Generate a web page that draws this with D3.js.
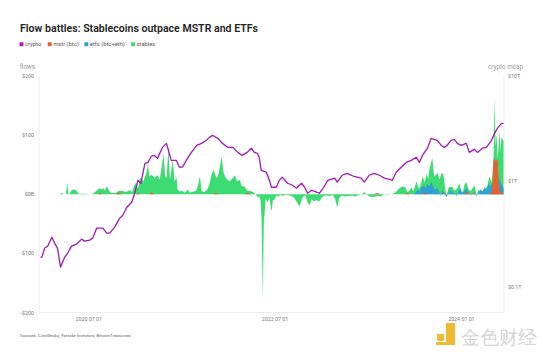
<!DOCTYPE html>
<html>
<head>
<meta charset="utf-8">
<script src="https://cdn.jsdelivr.net/npm/d3@7"></script>
<style>
  body { margin: 0; background: #fff; }
  text { font-family: Roboto, "Noto Sans", sans-serif; }
</style>
</head>
<body>
<div id="chart"></div>
<script>
// crypto market cap ($T)
var mcapDates = ["2020-01-01","2020-01-07","2020-01-18","2020-01-30","2020-02-15","2020-03-01","2020-03-08","2020-03-20","2020-04-05","2020-04-17","2020-05-02","2020-05-22","2020-06-11","2020-06-22","2020-07-12","2020-07-24","2020-08-09","2020-09-02","2020-09-17","2020-09-29","2020-10-18","2020-11-07","2020-11-19","2020-12-05","2020-12-24","2021-01-05","2021-01-17","2021-01-29","2021-02-14","2021-02-26","2021-03-11","2021-03-23","2021-04-04","2021-04-24","2021-05-09","2021-05-17","2021-05-28","2021-06-17","2021-06-29","2021-07-11","2021-07-26","2021-08-15","2021-09-05","2021-09-24","2021-10-13","2021-10-25","2021-11-06","2021-11-26","2021-12-15","2022-01-04","2022-01-24","2022-02-13","2022-03-02","2022-03-22","2022-04-07","2022-04-19","2022-05-01","2022-05-08","2022-05-16","2022-06-05","2022-06-17","2022-06-25","2022-07-14","2022-07-26","2022-08-07","2022-08-27","2022-09-16","2022-10-01","2022-10-21","2022-11-02","2022-11-14","2022-11-29","2022-12-19","2022-12-30","2023-01-11","2023-02-01","2023-02-28","2023-03-10","2023-03-29","2023-04-18","2023-05-15","2023-06-12","2023-06-24","2023-07-13","2023-08-02","2023-08-22","2023-09-11","2023-10-01","2023-10-12","2023-10-27","2023-11-16","2023-12-06","2023-12-25","2024-01-14","2024-01-26","2024-02-07","2024-02-27","2024-03-12","2024-03-24","2024-04-05","2024-04-21","2024-05-02","2024-05-14","2024-05-29","2024-06-11","2024-06-23","2024-07-08","2024-07-28","2024-08-09","2024-08-28","2024-09-10","2024-09-29","2024-10-15","2024-11-04","2024-11-16","2024-11-27","2024-12-13","2024-12-21"];
var mcapValues = [0.19,0.19,0.232,0.242,0.294,0.247,0.232,0.153,0.19,0.208,0.242,0.253,0.282,0.27,0.276,0.288,0.359,0.359,0.321,0.321,0.366,0.446,0.476,0.567,0.632,0.769,1.02,0.957,1.48,1.51,1.73,1.76,1.65,2.10,2.29,1.97,1.58,1.58,1.36,1.36,1.58,1.88,2.19,2.29,2.45,2.61,2.73,2.56,2.29,2.10,2.10,1.88,1.76,1.88,2.06,1.88,1.84,1.69,1.27,1.22,1.02,0.877,0.877,1.02,1.09,0.957,0.916,0.859,0.957,0.877,0.769,0.822,0.787,0.769,0.84,1.02,1.07,0.98,1.14,1.19,1.11,1.07,0.98,1.14,1.19,1.14,1.07,1.04,1.02,1.22,1.36,1.51,1.58,1.69,1.51,1.76,2.06,2.56,2.50,2.45,2.19,2.10,2.19,2.45,2.50,2.29,2.19,2.29,1.88,2.01,1.88,2.06,2.10,2.45,2.85,3.18,3.55,3.55];

// stablecoin flows ($B)
var stablesDates = ["2020-01-01","2020-02-27","2020-03-16","2020-03-24","2020-04-02","2020-04-10","2020-04-15","2020-04-20","2020-04-25","2020-05-03","2020-05-14","2020-05-22","2020-05-30","2020-06-23","2020-07-12","2020-07-24","2020-08-02","2020-08-13","2020-08-21","2020-08-29","2020-09-03","2020-09-10","2020-09-18","2020-09-26","2020-10-04","2020-10-23","2020-10-31","2020-11-16","2020-12-02","2020-12-17","2020-12-25","2021-01-02","2021-01-10","2021-01-18","2021-01-26","2021-02-07","2021-02-19","2021-02-26","2021-03-04","2021-03-12","2021-03-23","2021-04-05","2021-04-13","2021-04-20","2021-04-28","2021-05-04","2021-05-10","2021-05-17","2021-05-23","2021-06-03","2021-06-10","2021-06-18","2021-06-22","2021-06-30","2021-07-11","2021-07-19","2021-08-01","2021-08-08","2021-08-20","2021-09-02","2021-09-09","2021-09-17","2021-09-25","2021-10-06","2021-10-18","2021-10-26","2021-11-03","2021-11-11","2021-11-19","2021-11-23","2021-11-30","2021-12-12","2021-12-20","2021-12-28","2022-01-05","2022-01-13","2022-01-25","2022-02-02","2022-02-10","2022-02-21","2022-02-28","2022-03-11","2022-03-23","2022-04-08","2022-04-19","2022-04-27","2022-05-05","2022-05-09","2022-05-13","2022-05-17","2022-05-22","2022-05-26","2022-06-02","2022-06-10","2022-06-17","2022-06-25","2022-07-01","2022-07-07","2022-07-14","2022-07-22","2022-07-30","2022-08-08","2022-08-19","2022-09-05","2022-09-20","2022-10-01","2022-10-13","2022-10-21","2022-10-29","2022-11-06","2022-11-14","2022-11-22","2022-11-30","2022-12-07","2022-12-19","2022-12-30","2023-01-08","2023-01-20","2023-02-09","2023-02-20","2023-03-02","2023-03-10","2023-03-18","2023-03-29","2023-04-10","2023-04-26","2023-05-08","2023-05-19","2023-06-05","2023-06-16","2023-06-24","2023-07-02","2023-07-14","2023-07-29","2023-08-14","2023-08-30","2023-09-08","2023-09-23","2023-10-09","2023-10-24","2023-11-09","2023-11-21","2023-12-02","2023-12-10","2023-12-18","2023-12-26","2024-01-03","2024-01-15","2024-01-23","2024-01-30","2024-02-08","2024-02-16","2024-02-24","2024-03-01","2024-03-05","2024-03-13","2024-03-17","2024-03-24","2024-04-02","2024-04-06","2024-04-14","2024-04-22","2024-04-29","2024-05-07","2024-05-11","2024-05-19","2024-05-26","2024-06-04","2024-06-12","2024-06-23","2024-07-01","2024-07-09","2024-07-12","2024-07-20","2024-07-28","2024-08-06","2024-08-14","2024-08-21","2024-08-29","2024-09-07","2024-09-14","2024-09-22","2024-10-04","2024-10-12","2024-10-19","2024-10-27","2024-11-05","2024-11-12","2024-11-16","2024-11-20","2024-11-24","2024-11-28","2024-12-06","2024-12-09","2024-12-13","2024-12-21"];
var stablesValues = [0,0,0,2,0,0,19,0,1,7,8,6,1,1,0,1,4,8,10,8,10,7,13,6,2,2,5,6,4,7,3,14,20,10,28,22,35,50,30,33,28,32,25,45,69,30,28,78,25,58,22,28,8,5,6,2,8,3,4,6,14,30,5,4,9,20,35,41,30,27,35,64,35,28,24,22,28,32,22,24,14,13,6,5,2,-2,-6,-3,-10,-40,-175,-50,-8,-14,-6,-29,-10,-9,-2,-4,-1,-3,-1,-2,-5,-12,-21,-10,-3,-2,-15,-18,-8,-12,-10,-12,-6,-2,-3,-1,-8,-23,-6,-2,-4,-3,-2,-4,-1,1,4,0,-4,-5,-3,-4,0,1,0,3,10,13,12,4,6,11,5,22,10,14,30,20,36,25,41,55,61,30,34,36,25,36,34,8,-2,10,13,12,6,10,19,2,-3,15,21,8,5,10,15,-2,8,4,2,10,15,30,20,60,162,80,103,60,106,70,97,90];

// spot ETF flows, btc+eth ($B)
var etfDates = ["2024-01-03","2024-01-11","2024-01-19","2024-01-27","2024-02-04","2024-02-12","2024-02-20","2024-02-27","2024-03-05","2024-03-13","2024-03-21","2024-03-28","2024-04-06","2024-04-14","2024-04-18","2024-04-25","2024-05-03","2024-05-11","2024-05-19","2024-05-26","2024-06-04","2024-06-12","2024-06-20","2024-06-27","2024-07-05","2024-07-12","2024-07-20","2024-07-28","2024-08-06","2024-08-14","2024-08-21","2024-08-29","2024-09-07","2024-09-14","2024-09-22","2024-09-30","2024-10-08","2024-10-15","2024-10-23","2024-10-31","2024-11-09","2024-11-16","2024-11-24","2024-12-02","2024-12-09","2024-12-17","2024-12-21"];
var etfValues = [0,3,8,5,12,15,10,17,13,21,12,7,10,3,-3,6,2,-5,3,7,3,1,-3,4,10,3,5,10,3,-2,1,4,-3,3,8,5,12,7,17,13,20,65,40,28,20,14,10];

// MSTR btc purchases ($B)
var mstrDates = ["2020-01-01","2020-08-13","2020-08-21","2020-08-29","2020-10-23","2020-10-31","2020-11-16","2021-01-10","2021-01-18","2021-01-26","2021-03-04","2021-03-12","2021-03-23","2021-11-11","2021-11-19","2021-11-30","2022-03-11","2022-03-23","2022-04-08","2023-07-29","2023-08-14","2023-08-30","2023-12-02","2023-12-10","2023-12-18","2024-02-08","2024-02-16","2024-02-24","2024-04-29","2024-05-03","2024-05-11","2024-07-20","2024-08-02","2024-08-10","2024-08-21","2024-08-25","2024-09-03","2024-10-27","2024-11-05","2024-11-09","2024-11-12","2024-11-20","2024-11-28","2024-12-02","2024-12-06","2024-12-13","2024-12-21"];
var mstrValues = [0,0,2,0,0,3,0,0,2,0,0,4,0,0,3,0,0,2,0,0,2,0,0,3,0,0,4,0,0,3,0,0,4,0,0,3,0,0,4,30,61,55,60,25,6,3,0];

var flowTicks = [200, 100, 0, -100, -200];
var flowTickLabels = ["$200", "$100", "$0B", "-$100", "-$200"];
var mcapTicks = [10, 1, 0.1];
var mcapTickLabels = ["$10T", "$1T", "$0.1T"];
var dateTicks = ["2020-07-01", "2022-07-01", "2024-07-01"];
var dateTickLabels = ["2020 07 01", "2022 07 01", "2024 07 01"];

var legendNames = ["crypto", "mstr (btc)", "etfs (btc+eth)", "stables"];
var legendColors = ["#b51cc0", "#e4622f", "#2f9fd6", "#3ddc73"];

var width = 543, height = 359;
var parse = d3.timeParse("%Y-%m-%d");

function zipSeries(dates, values) {
  return dates.map(function (d, i) { return { date: parse(d), value: values[i] }; });
}
var mcap = zipSeries(mcapDates, mcapValues);
var stables = zipSeries(stablesDates, stablesValues);
var etfs = zipSeries(etfDates, etfValues);
var mstr = zipSeries(mstrDates, mstrValues);

var svg = d3.select('#chart').append('svg')
  .attr('width', width)
  .attr('height', height);

svg.append('rect').attr('width', width).attr('height', height).attr('fill', '#fff');

var plotLeft = 39, plotRight = 504, plotTop = 76, plotBottom = 312.5;

var x = d3.scaleTime()
  .domain([parse("2020-01-01"), parse("2024-12-21")])
  .range([40.4, 503.5]);

var y = d3.scaleLinear()
  .domain([-200, 200])
  .range([plotBottom, plotTop]);

var yR = d3.scaleLog()
  .domain([0.1, 10])
  .range([286.5, 76]);

// frame
var frame = svg.append('g').attr('stroke', '#ececec').attr('stroke-width', 1);
frame.append('line').attr('x1', plotLeft).attr('x2', plotLeft).attr('y1', plotTop).attr('y2', plotBottom);
frame.append('line').attr('x1', plotRight).attr('x2', plotRight).attr('y1', plotTop).attr('y2', plotBottom);
frame.append('line').attr('x1', plotLeft).attr('x2', plotRight).attr('y1', plotBottom).attr('y2', plotBottom);

// flows (overlapping areas)
var area = d3.area()
  .x(function (d) { return x(d.date); })
  .y0(y(0))
  .y1(function (d) { return y(d.value); });

svg.append('path').datum(stables).attr('d', area).attr('fill', legendColors[3]);
svg.append('path').datum(etfs).attr('d', area).attr('fill', legendColors[2]);
svg.append('path').datum(mstr).attr('d', area).attr('fill', legendColors[1]);

// crypto mcap line
var line = d3.line()
  .x(function (d) { return x(d.date); })
  .y(function (d) { return yR(d.value); });

svg.append('path').datum(mcap).attr('d', line)
  .attr('fill', 'none')
  .attr('stroke', '#a118b3')
  .attr('stroke-width', 1.3)
  .attr('stroke-linejoin', 'round');

// left axis labels
svg.append('text').attr('x', 35).attr('y', 69).attr('text-anchor', 'end')
  .attr('font-size', 6.3).attr('fill', '#999').text('flows');
svg.selectAll('.ltick').data(flowTicks).enter().append('text')
  .attr('class', 'ltick')
  .attr('x', 34).attr('y', function (d) { return y(d) + 2; })
  .attr('text-anchor', 'end').attr('font-size', 5.3).attr('fill', '#777')
  .text(function (d, i) { return flowTickLabels[i]; });

// right axis labels
svg.append('text').attr('x', 523).attr('y', 69).attr('text-anchor', 'end')
  .attr('font-size', 6.3).attr('fill', '#999').text('crypto mcap');
svg.selectAll('.rtick').data(mcapTicks).enter().append('text')
  .attr('class', 'rtick')
  .attr('x', 508).attr('y', function (d) { return yR(d) + 2; })
  .attr('font-size', 5.3).attr('fill', '#777')
  .text(function (d, i) { return mcapTickLabels[i]; });

// x axis labels
svg.selectAll('.xtick').data(dateTicks).enter().append('text')
  .attr('class', 'xtick')
  .attr('x', function (d) { return x(parse(d)) + 2; }).attr('y', 321)
  .attr('text-anchor', 'middle').attr('font-size', 5.3).attr('fill', '#777')
  .text(function (d, i) { return dateTickLabels[i]; });

// title
svg.append('text').attr('x', 20).attr('y', 31.5)
  .attr('font-size', 11.5).attr('font-weight', 600).attr('fill', '#222')
  .attr('textLength', 238).attr('lengthAdjust', 'spacingAndGlyphs')
  .text('Flow battles: Stablecoins outpace MSTR and ETFs');

// legend
var legendX = [19.5, 47.7, 84.3, 131];
var lg = svg.selectAll('.legend').data(legendNames).enter().append('g')
  .attr('class', 'legend')
  .attr('transform', function (d, i) { return 'translate(' + legendX[i] + ',42.3)'; });
lg.append('rect').attr('width', 4).attr('height', 4).attr('rx', 0.6)
  .attr('fill', function (d, i) { return legendColors[i]; });
lg.append('text').attr('x', 5.5).attr('y', 3.9).attr('font-size', 5.8).attr('fill', '#555')
  .text(function (d) { return d; });

// source
svg.append('text').attr('x', 20).attr('y', 337).attr('font-size', 4.4).attr('fill', '#666')
  .text('Sources: CoinGecko, Farside Investors, BitcoinTreasuries');

// watermark
var wm = svg.append('g').attr('opacity', 0.95);
wm.append('rect').attr('x', 437).attr('y', 334).attr('width', 7).attr('height', 7).attr('fill', '#efb626');
wm.append('path').attr('d', 'M446,323 h9 v22 h-19 v-3 h10 z').attr('fill', '#efb626');
wm.append('text').attr('x', 461).attr('y', 344).attr('font-size', 18.5)
  .attr('font-family', '"Noto Sans CJK SC", sans-serif')
  .attr('fill', '#d2d2d2').text('金色财经');
</script>
</body>
</html>
